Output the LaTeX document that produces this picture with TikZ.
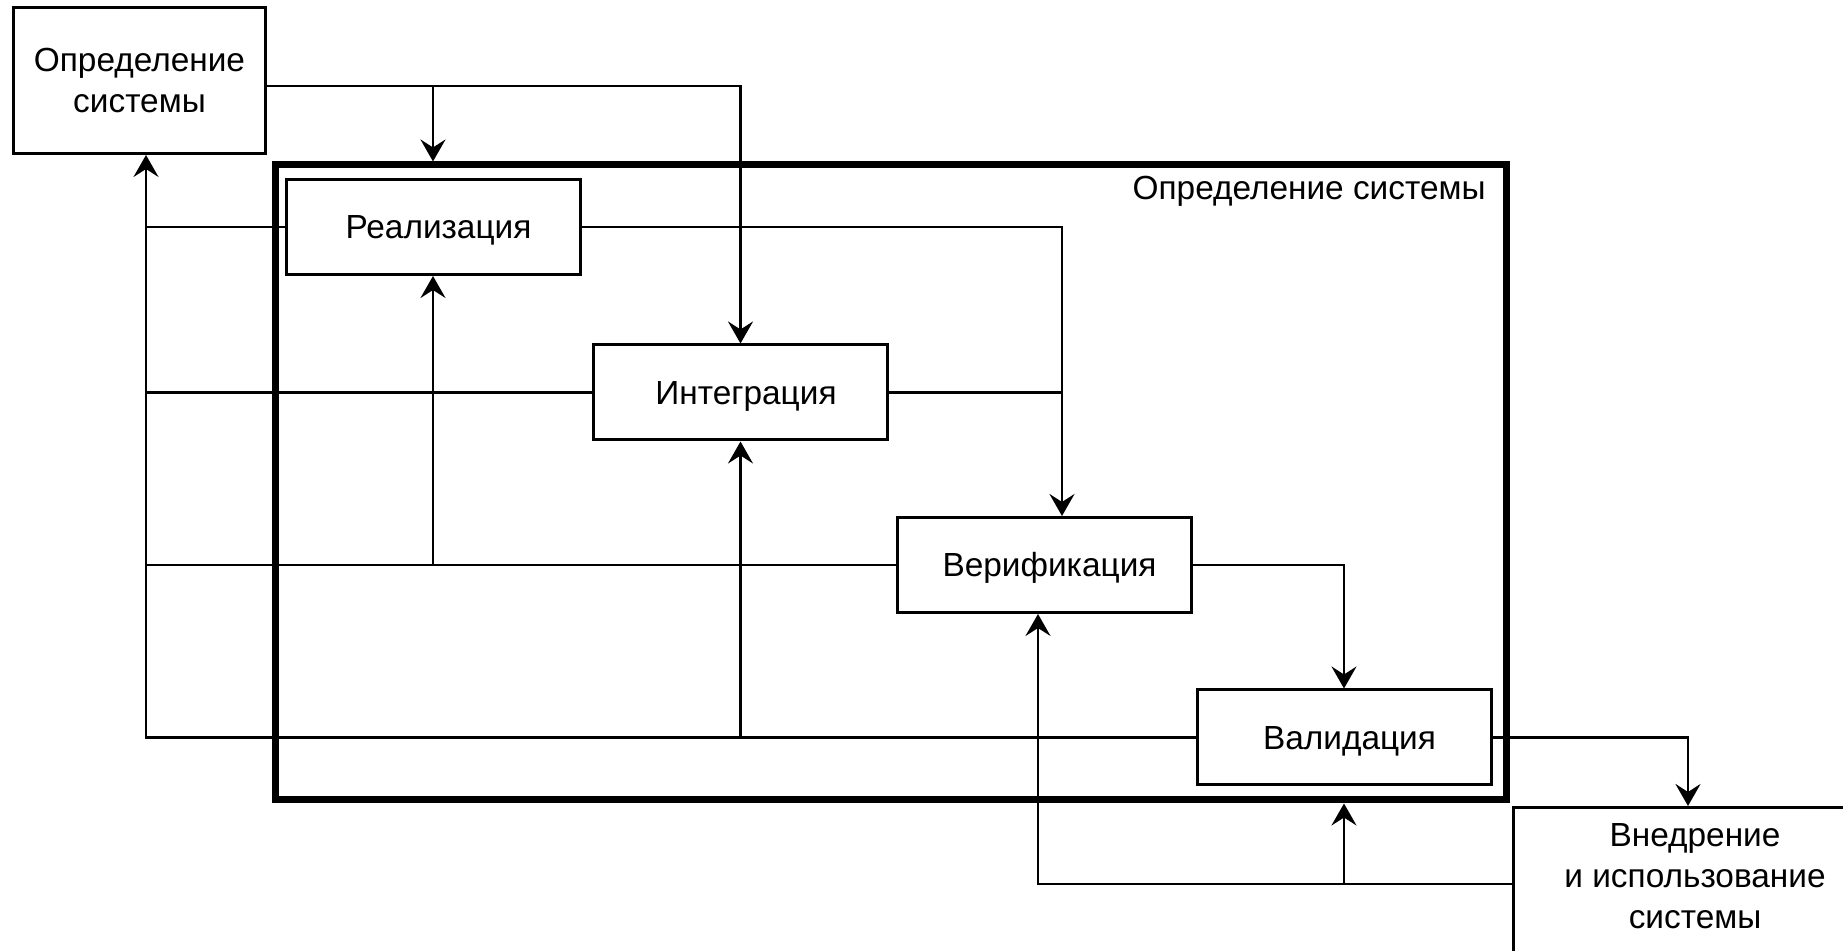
\documentclass[tikz,border=0pt]{standalone}
\usepackage{fontspec}
\setmainfont{Liberation Sans}
\usetikzlibrary{arrows.meta,calc}
\begin{document}
\begin{tikzpicture}[x=0.5pt,y=-0.5pt,
  lbl/.style={font=\fontsize{16.7pt}{20.5pt}\selectfont},
  stage/.style={draw, line width=1.5pt, minimum width=147pt, minimum height=47.5pt,
    inner sep=0pt, lbl, text height=12pt, text depth=0pt,
    execute at begin node={\hspace*{5.5pt}}},
  outerbox/.style={draw, line width=1.5pt, inner sep=0pt, lbl, align=center},
  frm/.style={draw, line width=3.5pt, inner sep=0pt, minimum width=615.5pt, minimum height=317.5pt},
  link/.style={line width=1.25pt},
  flow/.style={link, -{Stealth[length=11pt,width=12.5pt,inset=4pt]}},
]
\useasboundingbox (0,0) rectangle (1843,951);
\clip (0,0) rectangle (1843,951);
\fill[white] (0,0) rectangle (1843,951);

% blocks
\node[outerbox, minimum width=126pt, minimum height=73pt] (defsys) at (139.5,80.5) {Определение\\системы};
\node[frm] (frame) at (890.5,482.5) {};
\node[lbl, inner sep=0pt, anchor=base east] (frametitle) at (1486,200) {Определение системы};
\node[stage] (real) at (433,227) {Реализация};
\node[stage] (integ) at (740.5,392.5) {Интеграция};
\node[stage] (verif) at (1044,565) {Верификация};
\node[stage] (valid) at (1344,737.5) {Валидация};
\node[draw, line width=1.5pt, anchor=north west, minimum width=250pt, minimum height=120pt] (deploy) at (1512,806) {};
\node[lbl, align=center] (deploytext) at (1695,876.5) {Внедрение\\и использование\\системы};

% connection points
\coordinate (dsout) at ($(defsys.east)+(0,5.5)$);
\coordinate (dsin) at ($(defsys.south)+(6.5,0)$);
\coordinate (vin) at ($(verif.north)+(18,0)$);
\coordinate (vout) at ($(verif.south)+(-6,0)$);
\coordinate (dpin) at ($(deploy.north west)+(176,0)$);
\coordinate (dpout) at ($(deploy.north west)+(0,78)$);

% forward flow
\draw[flow] (dsout) -| (integ.north);
\draw[flow] (real.north |- dsout) -- (real.north |- frame.north);
\draw[flow] (real.east) -| (vin);
\draw[link] (integ.east) -- (integ.east -| vin);
\draw[flow] (verif.east) -| (valid.north);
\draw[flow] (valid.east) -| (dpin);

% feedback from deployment
\draw[flow] (dpout) -| (vout);
\draw[flow] (valid.south |- dpout) -- (valid.south |- frame.south);

% feedback to system definition
\draw[flow] (valid.west) -| (dsin);
\draw[link] (real.west) -- (real.west -| dsin);
\draw[link] (integ.west) -- (integ.west -| dsin);
\draw[link] (verif.west) -- (verif.west -| dsin);
\draw[flow] (real.south |- verif.west) -- (real.south);
\draw[flow] (integ.south |- valid.west) -- (integ.south);
\end{tikzpicture}
\end{document}
